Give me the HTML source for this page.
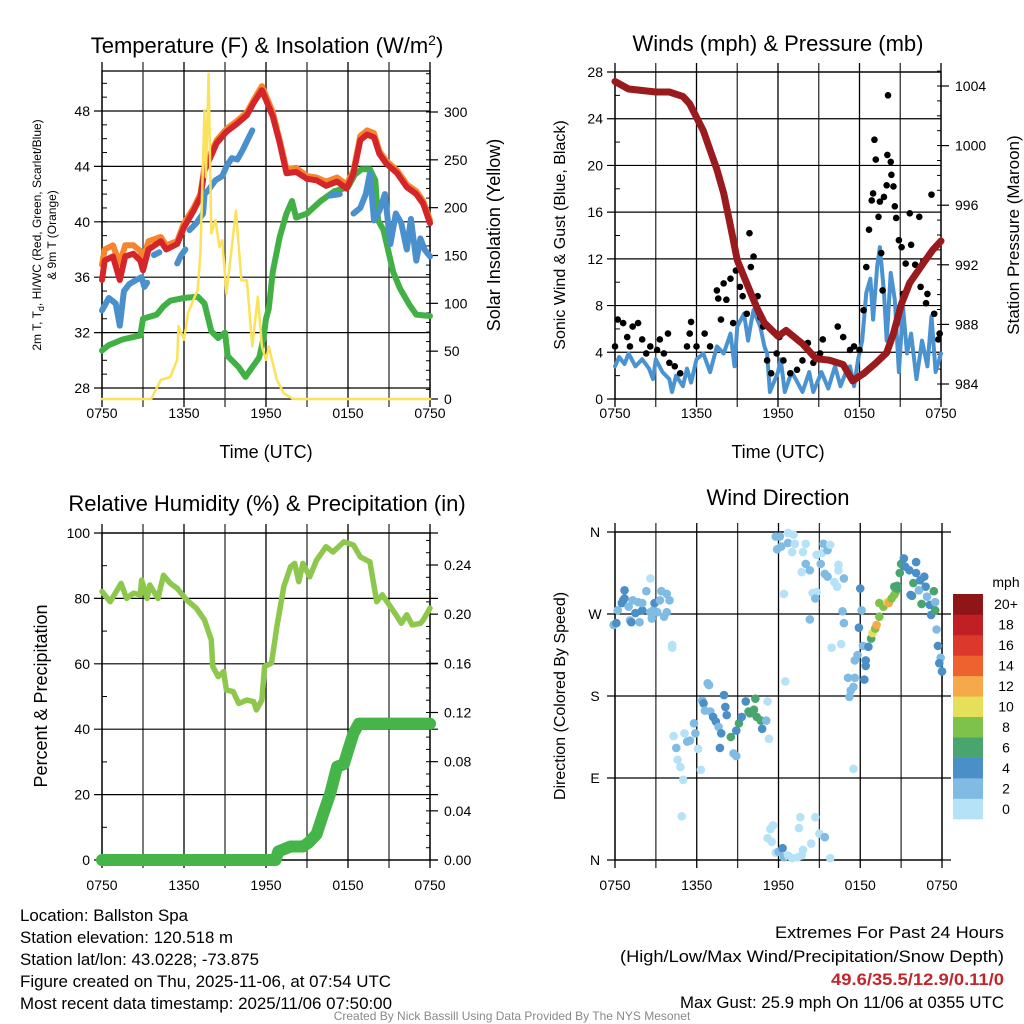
<!DOCTYPE html>
<html><head><meta charset="utf-8"><style>
html,body{margin:0;padding:0;background:#fff;}
svg{display:block;font-family:"Liberation Sans",sans-serif;}
</style></head><body>
<svg id="fig" width="1024" height="1024" viewBox="0 0 1024 1024" xmlns="http://www.w3.org/2000/svg">
<rect width="1024" height="1024" fill="#fff"/>
<g id="layer"></g>
<g font-size="22" text-anchor="middle" fill="#000">
<text x="267" y="53">Temperature (F) &amp; Insolation (W/m<tspan dy="-8" font-size="14">2</tspan><tspan dy="8">)</tspan></text>
<text x="778" y="51">Winds (mph) &amp; Pressure (mb)</text>
<text x="267" y="511">Relative Humidity (%) &amp; Precipitation (in)</text>
<text x="778" y="505">Wind Direction</text>
</g>
<g font-size="18" text-anchor="middle">
<text x="266" y="458">Time (UTC)</text>
<text x="778" y="458">Time (UTC)</text>
<text transform="translate(500,235) rotate(-90)">Solar Insolation (Yellow)</text>
<text transform="translate(47,696) rotate(-90)">Percent &amp; Precipitation</text>
<text font-size="17" transform="translate(1019,235) rotate(-90)">Station Pressure (Maroon)</text>
<text font-size="16" transform="translate(565,235) rotate(-90)">Sonic Wind &amp; Gust (Blue, Black)</text>
<text font-size="16" transform="translate(565,696) rotate(-90)">Direction (Colored By Speed)</text>
<text font-size="12" transform="translate(41,235) rotate(-90)">2m T, T<tspan font-size="9" dy="3">d</tspan><tspan dy="-3">, HI/WC (Red, Green, Scarlet/Blue)</tspan></text>
<text font-size="12" transform="translate(56,235) rotate(-90)">&amp; 9m T (Orange)</text>
</g>
<g font-size="16.5" fill="#000">
<text x="20" y="921" textLength="168" lengthAdjust="spacingAndGlyphs">Location: Ballston Spa</text>
<text x="20" y="943" textLength="213" lengthAdjust="spacingAndGlyphs">Station elevation: 120.518 m</text>
<text x="20" y="965" textLength="239" lengthAdjust="spacingAndGlyphs">Station lat/lon: 43.0228; -73.875</text>
<text x="20" y="987" textLength="371" lengthAdjust="spacingAndGlyphs">Figure created on Thu, 2025-11-06, at 07:54 UTC</text>
<text x="20" y="1009" textLength="372" lengthAdjust="spacingAndGlyphs">Most recent data timestamp: 2025/11/06 07:50:00</text>
<g text-anchor="end">
<text x="1004" y="938" textLength="229" lengthAdjust="spacingAndGlyphs">Extremes For Past 24 Hours</text>
<text x="1004" y="962" textLength="384" lengthAdjust="spacingAndGlyphs">(High/Low/Max Wind/Precipitation/Snow Depth)</text>
<text x="1004" y="985" fill="#c0272d" font-weight="bold" textLength="173" lengthAdjust="spacingAndGlyphs">49.6/35.5/12.9/0.11/0</text>
<text x="1004" y="1008" textLength="324" lengthAdjust="spacingAndGlyphs">Max Gust: 25.9 mph On 11/06 at 0355 UTC</text>
</g>
<text x="512" y="1020" font-size="12" fill="#888" text-anchor="middle">Created By Nick Bassill Using Data Provided By The NYS Mesonet</text>
</g>
</svg>
<script>
// ---------- data ----------
const xTickLabels = ["0750","1350","1950","0150","0750"];
// Panel 1: temperature
const tempHours = [0,0.2,0.8,1.3,1.7,2.3,2.8,3.0,3.4,4.3,4.7,5.5,6.0,6.7,7.2,7.5,8.4,9.1,9.9,10.6,11.1,11.7,12.0,12.5,13.0,13.5,14.2,15.0,15.7,16.4,17.2,17.9,18.4,18.9,19.4,19.9,20.3,20.8,21.6,22.3,23.0,23.5,24];
const tempRed = [35.8,37.2,37.5,35.8,37.5,37.7,37.2,36.5,38.0,38.6,38.0,38.4,39.6,40.8,41.8,43.7,45.7,46.5,47.1,47.7,48.6,49.5,48.8,47.6,45.7,43.5,43.6,43.1,43.0,42.6,42.9,42.4,43.5,45.9,46.3,46.1,44.9,44.2,43.5,42.5,42.0,41.3,39.9];
const tempOrange = [36.9,38.0,38.3,37.0,38.3,38.3,37.9,37.3,38.6,38.9,38.3,38.6,39.9,41.0,42.0,44.0,45.9,46.7,47.3,47.9,48.8,49.8,49.1,47.9,45.9,43.8,43.9,43.3,43.2,42.9,43.2,42.7,43.7,46.2,46.6,46.4,45.1,44.4,43.7,42.7,42.2,41.5,40.1];
const wcHours = [0,0.5,1.0,1.3,1.6,2.0,2.5,2.9,3.1,3.3,3.6,3.8,4.2,4.4,5.5,5.8,6.1,6.2,6.4,6.9,7.4,7.5,7.8,8.3,8.8,9.1,9.5,9.9,10.3,10.7,11.0,11.1,16.7,17.4,18.1,18.4,18.9,19.3,19.6,19.9,20.3,20.7,21.1,21.5,21.9,22.3,22.6,23.0,23.3,23.6,24];
const wcBlue = [33.6,34.5,34.1,32.5,35.0,35.5,35.8,36.0,35.3,35.6,null,37.6,37.8,null,37.0,37.6,38.0,null,39.4,39.9,40.6,42.0,42.3,43.0,43.3,44.0,44.6,44.5,45.2,46.0,46.6,null,41.9,42.0,null,40.6,41.0,42.0,43.5,40.1,40.8,42.0,38.4,40.6,39.9,38.0,40.2,37.2,38.8,38.0,37.5];
const dewHours = [0,0.5,1.5,2.8,3.0,4.0,4.5,5.0,6.0,7.0,7.5,8.0,8.5,9.0,9.2,10.0,10.5,11.0,11.5,11.8,12.0,12.2,12.5,13.0,13.5,13.9,14.2,15.0,16.0,17.0,18.0,18.5,19.0,19.6,20.0,20.2,20.6,21.3,21.8,22.5,23.0,24];
const dewGreen = [30.7,31.1,31.5,31.8,33.0,33.3,33.9,34.3,34.5,34.6,34.1,32.1,31.6,32.0,30.3,29.5,28.8,29.5,30.2,31.5,33.0,33.7,36.4,38.9,40.6,41.5,40.3,40.6,41.5,42.2,42.5,43.4,43.8,43.8,43.0,40.1,39.4,36.4,35.2,34.0,33.3,33.2];
const solarHours = [0,3.6,4.3,5.0,5.5,5.6,6.0,6.3,6.7,7.0,7.2,7.5,7.6,7.8,8.0,8.3,8.6,8.8,9.1,9.5,9.8,10.2,10.6,11.0,11.4,11.7,12.0,12.2,12.8,13.3,14.0,24];
const solarYellow = [0,0,20,23,41,76,62,90,104,114,152,302,232,340,173,187,159,166,110,159,197,124,124,55,107,55,41,55,20,6,0,0];
const tempTicks = [28,32,36,40,44,48];
const solarTicks = [0,50,100,150,200,250,300];
// Panel 2: winds & pressure
const presHours = [0,1,3,4,5,5.5,6,6.5,7,7.5,8,8.5,9,9.5,10,10.5,11,12,12.6,13.8,14.8,15.8,16.8,17.5,17.8,18.3,19.2,20.0,20.5,21.1,21.7,22.7,23.4,24];
const presMaroon = [1004.3,1003.8,1003.6,1003.6,1003.3,1002.8,1001.9,1001.0,999.7,998.4,996.8,994.6,992.3,991.2,990.1,989.0,988.1,987.2,987.6,986.7,985.7,985.6,985.3,984.2,984.4,984.7,985.4,986.1,987.4,989.4,990.8,992.1,993.0,993.6];
const windHours = [0,0.3,0.7,1,1.5,2,2.5,2.8,3,3.5,4,4.2,4.5,5,5.3,5.6,6,6.5,7,7.5,8,8.5,8.8,9,9.5,9.8,10,10.2,10.7,11,11.2,11.4,12,12.2,12.5,13,13.3,13.8,14.3,14.6,15.2,15.7,16.2,16.6,17,17.3,17.6,17.9,18.2,18.5,18.8,19.0,19.3,19.5,19.8,20,20.3,20.6,20.9,21.2,21.5,21.8,22.2,22.6,23,23.3,23.6,24];
const windBlue = [2.8,3.6,3.0,3.9,2.8,3.4,2.6,1.7,3.4,2.3,1.7,0.6,2.0,1.1,2.6,1.4,3.4,3.9,2.3,4.5,3.9,5.6,2.8,6.2,7.3,5.0,6.4,7.6,6.2,4.5,3.9,0.6,2.3,3.4,0.6,2.3,1.7,0.6,2.3,0.6,2.3,0.9,2.8,1.1,2.3,2.8,1.1,3.4,5.0,9.1,10.3,6.8,11.4,13.0,9.1,5.0,10.8,8.5,2.3,7.9,3.9,5.6,1.7,5.0,2.8,7.1,2.3,3.9];
const gustHours = [0,0.2,0.6,0.9,1.1,1.3,1.7,2.0,2.3,2.6,3.1,3.3,3.6,3.9,4.0,4.4,4.8,5.3,5.5,5.6,6.0,6.6,7.0,7.5,7.6,7.8,8.0,8.2,8.5,8.7,8.9,9.2,9.4,9.7,9.9,10.0,10.2,10.5,10.7,10.9,11.2,11.5,11.9,12.1,12.4,12.9,13.4,13.8,14.2,14.6,15.1,15.3,15.8,16.4,16.8,17.3,17.6,18.0,18.3,18.5,18.7,18.9,19.0,19.1,19.2,19.4,19.5,19.6,19.7,19.8,20.0,20.05,20.1,20.3,20.35,20.5,20.6,20.7,20.9,21.1,21.2,21.4,21.7,21.8,22.1,22.4,22.5,22.7,22.9,23.0,23.3,23.5,23.8,23.9];
const gustBlack = [4.5,6.8,6.5,5.3,4.5,6.2,6.5,5.1,3.9,4.5,4.2,5.1,3.9,5.6,3.1,2.8,2.2,4.5,5.6,6.6,4.5,5.6,4.5,9.3,8.6,6.8,9.9,8.5,10.3,6.5,11.0,9.6,8.8,7.3,14.2,11.3,12.2,8.8,7.0,6.2,3.3,2.2,3.9,5.3,3.3,2.2,2.5,3.3,4.8,3.1,3.9,5.1,3.3,6.2,5.3,4.2,4.5,4.2,7.6,11.3,14.5,17.0,17.6,22.2,20.5,15.6,16.9,12.5,9.3,17.3,18.3,20.9,26.0,20.3,19.2,18.2,16.5,15.5,13.6,13.0,9.0,11.6,15.9,13.2,11.5,15.6,9.6,11.8,8.2,9.0,17.5,7.3,5.1,5.6];
const windTicks = [0,4,8,12,16,20,24,28];
const presTicks = [984,988,992,996,1000,1004];
// Panel 3: RH & precip
const rhHours = [0,0.6,1.4,1.8,2.3,2.8,2.9,3.3,3.5,4.1,4.5,5.0,5.5,6.2,6.9,7.5,8.0,8.1,8.5,8.9,9.1,9.6,10.0,10.6,11.1,11.3,11.7,11.9,12.4,12.8,13.3,13.8,14.1,14.4,14.7,15.2,15.7,16.4,16.9,17.7,18.4,18.9,19.6,20.1,20.5,21.1,21.6,21.9,22.3,22.7,23.3,23.5,24];
const rhValues = [82.1,79.0,84.6,80.0,81.6,81.1,85.6,80.0,84.1,80.0,87.1,84.6,83.1,79.5,77.0,73.4,67.3,59.2,56.1,57.6,52.0,51.5,47.9,48.9,48.4,45.9,48.9,59.2,60.2,71.4,83.6,89.7,90.7,85.1,90.7,86.6,91.7,95.8,94.2,97.3,96.3,92.7,91.2,79.0,81.1,77.5,74.4,72.4,75.0,71.9,72.4,73.4,77.0];
const precipHours = [0,12.7,12.9,13.8,14.7,15.1,15.7,16.2,16.7,17.2,17.7,18.0,18.4,18.8,24];
const precipValues = [0,0,0.007,0.011,0.011,0.014,0.021,0.038,0.054,0.076,0.078,0.089,0.103,0.111,0.111];
const rhTicks = [0,20,40,60,80,100];
const precipTicks = ["0.00","0.04","0.08","0.12","0.16","0.20","0.24"];
// Panel 4: wind direction
const dirHours = [-0.1,0.1,0.2,0.5,0.6,0.7,0.7,1.0,1.1,1.2,1.3,1.5,1.7,1.8,2.0,2.0,2.3,2.6,2.6,2.7,2.8,2.9,3.1,3.3,3.4,3.6,3.8,3.8,4.0,4.2,4.2,
4.3,4.5,4.6,4.8,5.0,4.9,5.1,5.3,5.5,5.8,5.9,6.1,6.3,6.4,6.5,6.6,6.8,6.9,7.0,7.2,7.4,7.6,7.7,7.8,8.0,8.1,8.2,8.5,8.7,8.9,8.9,9.1,9.3,9.6,9.8,9.9,10.2,10.3,10.4,10.7,10.8,11.1,11.2,11.3,12.5,17.5,
11.2,11.4,11.6,11.5,11.8,12.0,12.3,12.4,12.7,13.0,13.4,13.5,13.7,13.8,13.6,14.4,14.7,15.0,15.4,15.8,
11.8,12.1,11.9,12.2,12.7,13.1,12.7,13.0,13.2,13.8,14.0,14.0,14.3,13.7,14.8,15.2,15.3,15.6,15.8,15.1,15.4,15.6,16.1,16.3,16.4,16.4,16.8,14.5,14.8,14.7,12.4,14.3,15.9,16.6,
16.7,16.8,18.0,18.1,17.9,18.2,18.4,18.6,17.8,17.6,18.4,18.3,17.1,17.3,17.6,17.5,17.2,18.8,18.9,19.1,19.2,19.4,19.4,19.7,20.0,20.1,20.3,20.5,20.6,20.7,20.7,20.5,20.9,21.0,21.2,21.3,21.6,21.9,21.8,21.7,22.1,22.1,22.4,22.7,22.8,22.3,22.5,22.9,23.4,23.1,23.2,23.5,23.5,23.6,23.7,23.9,23.8,24.0];
const dirDegrees = [258,260,274,282,285,287,296,278,263,261,285,271,283,261,274,282,295,309,272,265,274,282,272,285,295,267,272,292,285,236,233,
136,123,110,102,88,48,139,130,131,150,139,122,99,175,172,164,194,192,163,157,152,146,123,139,181,168,159,135,117,114,142,150,157,174,163,161,165,177,157,153,144,153,174,133,196,100,
24,34,38,20,8,9,13,3,5,2,3,35,5,11,47,18,47,29,25,2,
355,355,341,344,359,357,348,338,347,338,347,325,318,316,335,337,347,340,346,325,314,311,305,300,324,318,309,293,294,287,292,264,233,237,
273,260,298,274,255,235,219,234,225,219,213,198,200,186,200,190,179,243,249,254,258,267,282,278,283,282,287,291,294,298,301,300,315,325,331,322,318,304,290,291,327,315,307,311,300,296,281,289,295,280,269,274,283,253,235,222,216,207];
const dirSpeeds = [2,4,2,4,4,4,4,2,2,4,2,4,2,2,4,2,2,0,2,2,2,4,2,2,2,2,2,2,2,0,0,
0,2,0,0,0,0,0,2,2,2,2,0,0,2,4,2,2,2,2,4,4,2,4,4,4,4,4,6,2,2,4,6,4,4,6,6,6,6,6,6,4,2,0,0,0,0,
0,0,0,0,0,2,4,2,0,0,0,0,0,0,0,0,0,0,2,0,
2,2,2,2,0,0,2,0,0,0,0,2,2,0,0,0,2,2,0,2,2,2,0,0,0,0,2,0,0,2,0,2,0,0,
2,2,4,2,4,2,4,4,2,2,4,4,2,2,2,2,2,6,10,8,12,8,8,8,10,12,8,8,8,6,6,6,6,6,4,4,4,6,6,4,4,4,4,4,4,2,6,2,6,4,4,6,2,2,4,2,4,4];
const speedBins = ["0","2","4","6","8","10","12","14","16","18","20+"];
const dirTicks = ["N","E","S","W","N"];

// ---------- drawing ----------
const NS = "http://www.w3.org/2000/svg";
const layer = document.getElementById("layer");
function mk(tag, attrs, parent) {
  const e = document.createElementNS(NS, tag);
  for (const k in attrs) e.setAttribute(k, attrs[k]);
  (parent || layer).appendChild(e);
  return e;
}
function linScale(d0, d1, r0, r1) { return v => r0 + (v - d0) * (r1 - r0) / (d1 - d0); }
function pathD(xs, ys, sx, sy) {
  let d = "", pen = false;
  for (let i = 0; i < xs.length; i++) {
    if (ys[i] === null) { pen = false; continue; }
    d += (pen ? "L" : "M") + sx(xs[i]).toFixed(1) + "," + sy(ys[i]).toFixed(1);
    pen = true;
  }
  return d;
}
function frame(name) {
  const g = mk("g", {});
  
  
  return g;
}
function vgrid(g, x0, x1, y0, y1, sx, labels, labelY) {
  for (let i = 0; i <= 8; i++) {
    const x = sx(i * 3);
    const ln = mk("line", {x1: x, x2: x, y1: y0 - 9, y2: y1 + 8, stroke: i % 2 ? "#333" : "#000", "stroke-width": 1.3}, g);
    
    
  }
  labels.forEach((l, i) => {
    const t = mk("text", {x: sx(i * 6), y: labelY, "font-size": 14, "text-anchor": "middle"}, g);
    t.textContent = l;
    
    
  });
}
function hline(g, x0, x1, y, w) {
  const l = mk("line", {x1: x0, x2: x1, y1: y, y2: y, stroke: "#000", "stroke-width": w || 1.2}, g);
  
  
}
function label(g, x, y, txt, anchor, name) {
  const t = mk("text", {x: x, y: y, "font-size": 14, "text-anchor": anchor}, g);
  t.textContent = txt;
  
  
}
function series(g, d, color, w, name) {
  const p = mk("path", {d: d, fill: "none", stroke: color, "stroke-width": w, "stroke-linejoin": "round", "stroke-linecap": "round"}, g);
  
  
}

// Panel 1
(function(){
  const X0 = 102, X1 = 430, Y0 = 71, Y1 = 399;
  const sx = linScale(0, 24, X0, X1);
  const sy = linScale(28, 48, 388, 111);
  const sr = linScale(0, 300, 399, 112);
  const g = frame("temperature-panel");
  mk("rect", {x: X0, y: Y0, width: X1 - X0, height: Y1 - Y0, fill: "none", stroke: "#000", "stroke-width": 1.3}, g);
  vgrid(g, X0, X1, Y0, Y1, sx, xTickLabels, 418);
  tempTicks.forEach(v => { hline(g, X0 - 8, X1, sy(v)); label(g, X0 - 12, sy(v) + 5, String(v), "end", "temp-tick-label"); });
  for (let v = 28; v <= 50; v++) hline(g, X0, X0 + 5, sy(v), 1);
  solarTicks.forEach(v => { hline(g, X1, X1 + 8, sr(v)); label(g, X1 + 14, sr(v) + 5, String(v), "start", "solar-tick-label"); });
  for (let v = 0; v <= 340; v += 10) hline(g, X1 - 4, X1, sr(v), 1);
  series(g, pathD(dewHours, dewGreen, sx, sy), "#42b145", 6, "dewpoint-line");
  series(g, pathD(tempHours, tempOrange, sx, sy), "#f6862e", 6, "9m-temp-line");
  series(g, pathD(tempHours, tempRed, sx, sy), "#d4262a", 6, "2m-temp-line");
  series(g, pathD(wcHours, wcBlue, sx, sy), "#4a90cc", 6, "windchill-line");
  series(g, pathD(solarHours, solarYellow, sx, sr), "#fbe25a", 2.5, "solar-line");
})();

// Panel 2
(function(){
  const X0 = 615, X1 = 941, Y0 = 72, Y1 = 399;
  const sx = linScale(0, 24, X0, X1);
  const sy = linScale(0, 28, 399, 72);
  const sp = linScale(984, 1004, 384, 86);
  const g = frame("wind-panel");
  mk("rect", {x: X0, y: Y0, width: X1 - X0, height: Y1 - Y0, fill: "none", stroke: "#000", "stroke-width": 1.3}, g);
  vgrid(g, X0, X1, Y0, Y1, sx, xTickLabels, 418);
  windTicks.forEach(v => { hline(g, X0 - 8, X1, sy(v)); label(g, X0 - 12, sy(v) + 5, String(v), "end", "wind-tick-label"); });
  for (let v = 2; v < 28; v += 4) hline(g, X0, X0 + 5, sy(v), 1);
  presTicks.forEach(v => { hline(g, X1, X1 + 8, sp(v)); label(g, X1 + 14, sp(v) + 5, String(v), "start", "pressure-tick-label"); });
  for (let v = 983; v <= 1005; v++) hline(g, X1 - 4, X1, sp(v), 1);
  series(g, pathD(windHours, windBlue, sx, sy), "#4a93d0", 4, "sonic-wind-line");
  gustHours.forEach((h, i) => {
    const c = mk("circle", {cx: sx(h), cy: sy(gustBlack[i]), r: 3.3, fill: "#000"}, g);
    
    
  });
  series(g, pathD(presHours, presMaroon, sx, sp), "#9a1b1e", 7, "pressure-line");
})();

// Panel 3
(function(){
  const X0 = 102, X1 = 430, Y0 = 533, Y1 = 860;
  const sx = linScale(0, 24, X0, X1);
  const sy = linScale(0, 100, 860, 533);
  const sq = linScale(0, 0.24, 860, 565);
  const g = frame("humidity-panel");
  mk("rect", {x: X0, y: Y0, width: X1 - X0, height: Y1 - Y0, fill: "none", stroke: "#000", "stroke-width": 1.3}, g);
  vgrid(g, X0, X1, Y0, Y1, sx, xTickLabels, 890);
  rhTicks.forEach(v => { hline(g, X0 - 8, X1 + 8, sy(v)); label(g, X0 - 12, sy(v) + 5, String(v), "end", "rh-tick-label"); });
  for (let v = 10; v < 100; v += 20) hline(g, X0, X0 + 5, sy(v), 1);
  precipTicks.forEach(v => { hline(g, X1, X1 + 8, sq(+v)); label(g, X1 + 14, sq(+v) + 5, v, "start", "precip-tick-label"); });
  for (let v = 0; v <= 0.27; v += 0.01) hline(g, X1 - 4, X1, sq(v), 1);
  series(g, pathD(rhHours, rhValues, sx, sy), "#8dc84d", 5.5, "rh-line");
  series(g, pathD(precipHours, precipValues, sx, sq), "#45b549", 12, "precip-line");
})();

// Panel 4
(function(){
  const X0 = 615, X1 = 942, Y0 = 532, Y1 = 860;
  const sx = linScale(0, 24, X0, X1);
  const sy = linScale(0, 360, 860, 532);
  const colors = ["#b5e2f7","#80bbe4","#4a8fc7","#48a56e","#7fc24b","#e5df59","#f5a94a","#ee6230","#dc382b","#bf1f25","#8f1517"];
  const g = frame("direction-panel");
  mk("rect", {x: X0, y: Y0, width: X1 - X0, height: Y1 - Y0, fill: "none", stroke: "#000", "stroke-width": 1.3}, g);
  vgrid(g, X0, X1, Y0, Y1, sx, xTickLabels, 890);
  dirTicks.forEach((l, i) => { hline(g, X0 - 8, 951, sy(i * 90)); label(g, X0 - 20, sy(i * 90) + 5, l, "middle", "dir-tick-label"); });
  dirHours.forEach((h, i) => {
    const ci = Math.min(10, Math.floor(dirSpeeds[i] / 2));
    const c = mk("circle", {cx: sx(h), cy: sy(dirDegrees[i]), r: 4.3, fill: colors[ci]}, g);
    
    
  });
  const cb = mk("g", {}, g);
  
  
  const bh = 225 / 11;
  speedBins.forEach((l, i) => {
    const y = 594 + (10 - i) * bh;
    const r = mk("rect", {x: 953, y: y, width: 30, height: bh + 0.3, fill: colors[i]}, cb);
    
    
    label(cb, 1006, y + bh / 2 + 5, l, "middle", "colorbar-label");
  });
  label(cb, 1006, 587, "mph", "middle", "colorbar-title");
})();
</script>
</body></html>
